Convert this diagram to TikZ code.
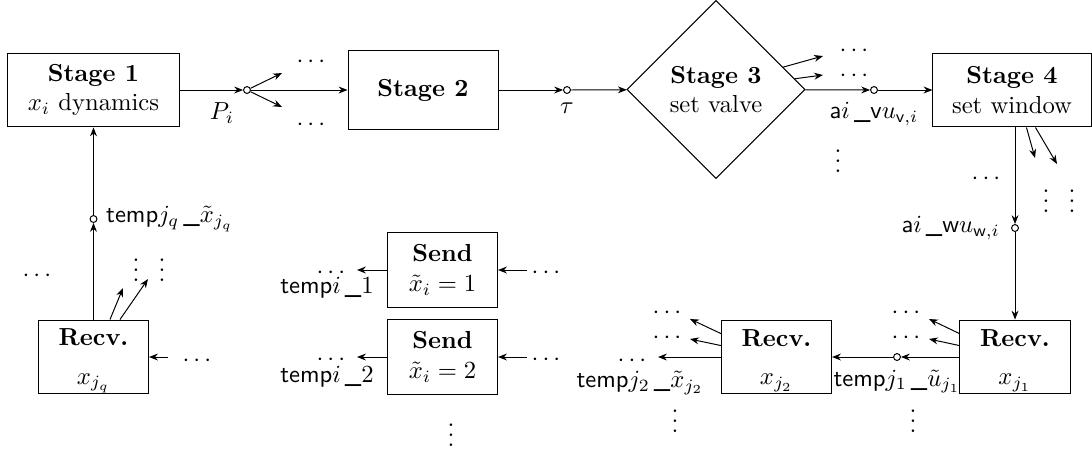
\documentclass[tikz,border=0pt]{standalone}
\usepackage{amsmath,amssymb}
\usepackage{fontspec}
\usetikzlibrary{positioning, arrows.meta, shapes.geometric, calc}

\begin{document}
\begin{tikzpicture}[
  x=0.406pt, y=-0.406pt,
  >={Stealth[length=3.6pt, width=2.8pt]},
  blk/.style={draw, rectangle, align=center, inner sep=1pt},
  stagebox/.style={blk, minimum height=30pt},
  recvbox/.style={blk, inner ysep=0pt, minimum width=44.7pt, minimum height=30pt},
  valve/.style={draw, diamond, align=center, inner sep=1pt, minimum size=72.3pt},
  tap/.style={circle, draw, fill=white, inner sep=0pt, minimum size=2.8pt},
  dots/.style={inner sep=0pt},
  lbl/.style={inner sep=1pt},
]
  % canvas: 1 unit = 1 px of the 1092x449 layout
  \useasboundingbox (0,0) rectangle (1092,449);

  % Top chain of stages
  \node[stagebox, minimum width=70.2pt] (s1) at (93.5,90) {\textbf{Stage 1}\\ $x_i$ dynamics};
  \node[stagebox, minimum width=60.9pt, minimum height=31.7pt] (s2) at (423,90) {\textbf{Stage 2}};
  \node[valve] (s3) at (716,89.5) {\textbf{Stage 3}\\ set valve};
  \node[stagebox, minimum width=64.2pt] (s4) at (1012,90) {\textbf{Stage 4}\\ set window};

  % Receivers and senders
  \node[recvbox] (r1) at (1015,357) {\rule{0pt}{10pt}\textbf{Recv.}\\[3.5pt] $x_{j_1}$};
  \node[recvbox] (r2) at (776.5,357) {\rule{0pt}{10pt}\textbf{Recv.}\\[3.5pt] $x_{j_2}$};
  \node[recvbox] (rq) at (93.5,357) {\rule{0pt}{10pt}\textbf{Recv.}\\[3.5pt] $x_{j_q}$};
  \node[recvbox, minimum height=30.4pt] (snd1) at (442.5,270) {\textbf{Send}\\ $\tilde{x}_i=1$};
  \node[recvbox, minimum height=30.4pt] (snd2) at (442.5,357) {\textbf{Send}\\ $\tilde{x}_i=2$};

  % Taps (small circles) with their signal names
  \node[tap] (p1) at (247,90) {};
  \node[tap, label={below:$\tau$}] (p2) at (567,90) {};
  \node[tap, label={below:\textsf{a}$i$\textsf{\,\_v}$u_{\mathsf{v},i}$}] (p3) at (874,90) {};
  \node[tap, label={[label distance=1pt]left:\textsf{a}$i$\textsf{\,\_w}$u_{\mathsf{w},i}$}] (p4) at (1015,228) {};
  \node[tap, label={below:\textsf{temp}$j_1$\textsf{\,\_}$\tilde{u}_{j_1}$}] (p5) at (897,357) {};
  \node[tap, label={right:\textsf{temp}$j_q$\textsf{\,\_}$\tilde{x}_{j_q}$}] (p6) at (93.5,219) {};

  \node[lbl] (lPi) at (222,113) {$P_i$};
  \node[lbl] (lt1) at (327,288) {\textsf{temp}$i$\textsf{\,\_}$1$};
  \node[lbl] (lt2) at (327,377) {\textsf{temp}$i$\textsf{\,\_}$2$};
  \node[lbl] (ltj2) at (640,383) {\textsf{temp}$j_2$\textsf{\,\_}$\tilde{x}_{j_2}$};

  % Ellipses
  \foreach \n/\x/\y in {h1/313/62, h2/313/125, h3/856/51, h4/856/76, h5/988/179,
                        h6/908/313, h7/908/338, h8/669/313, h9/669/338, h10/634/361,
                        h11/333/273, h12/548/273, h13/333/360, h14/548/360,
                        h15/39/276, h16/199/361}
    \node[dots] (\n) at (\x,\y) {$\cdots$};
  \foreach \n/\x/\y in {v1/838/154, v2/1046/194, v3/1072/194, v4/913/414,
                        v5/675/414, v6/451/428, v7/136/263, v8/162/263}
    \node[dots] (\n) at (\x,\y) {$\vdots$};

  % Free ends of the short arrows
  \foreach \n/\x/\y in {e1/282/73, e2/282/107, e3/823/56, e4/823/75, e5/1035/158,
                        e6/1057/164, e7/929/319, e8/929/339, e9/690/319, e10/690/339,
                        e11/123/288, e12/148/279, o1/357/270, o2/357/357, o3/658/357,
                        i1/527/270, i2/527/357, i3/168/357}
    \coordinate (\n) at (\x,\y);

  % Main signal path
  \draw[->] (s1) -- (p1);
  \draw[->] (p1) -- (s2);
  \draw[->] (s2) -- (p2);
  \draw[->] (p2) -- (s3);
  \draw[->] (s3) -- (p3);
  \draw[->] (p3) -- (s4);
  \draw[->] (s4.south -| p4) -- (p4);
  \draw[->] (p4) -- (r1);
  \draw[->] (r1) -- (p5);
  \draw[->] (p5) -- (r2);
  \draw[->] (r2) -- (o3);
  \draw[->] (rq) -- (p6);
  \draw[->] (p6) -- (s1);

  % Fan-outs
  \draw[->] (p1) -- (e1);
  \draw[->] (p1) -- (e2);
  \draw[->] ($(s3.north)!.75!(s3.east)$) -- (e3);
  \draw[->] ($(s3.north)!.88!(s3.east)$) -- (e4);
  \draw[->] ($(s4.south west)+(94,0)$) -- (e5);
  \draw[->] ($(s4.south west)+(103,0)$) -- (e6);
  \draw[->] ($(r1.north west)+(0,14)$) -- (e7);
  \draw[->] ($(r1.north west)+(0,26)$) -- (e8);
  \draw[->] ($(r2.north west)+(0,14)$) -- (e9);
  \draw[->] ($(r2.north west)+(0,26)$) -- (e10);
  \draw[->] ($(rq.north west)+(72,0)$) -- (e11);
  \draw[->] ($(rq.north west)+(82,0)$) -- (e12);

  % Senders in and out
  \draw[->] (snd1) -- (o1);
  \draw[->] (snd2) -- (o2);
  \draw[->] (i1) -- (snd1);
  \draw[->] (i2) -- (snd2);
  \draw[->] (i3) -- (rq);
\end{tikzpicture}
\end{document}
